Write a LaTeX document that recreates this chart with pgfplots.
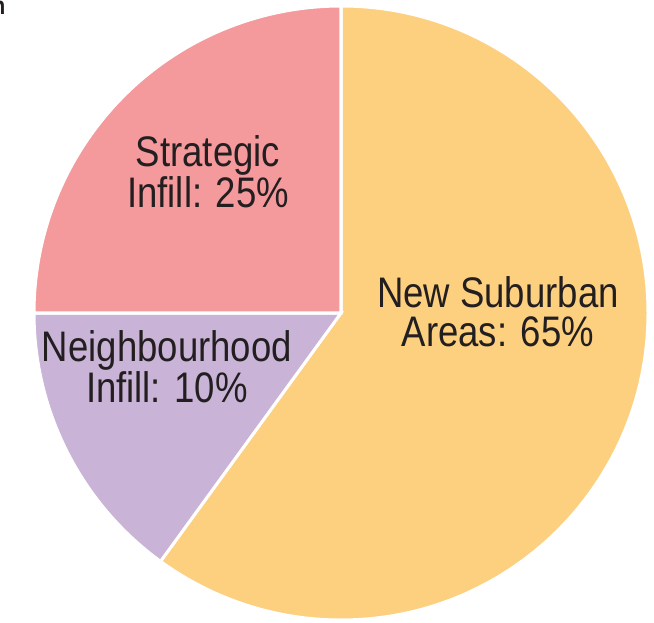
\documentclass[border=0pt]{standalone}
\usepackage{fontspec}
\setmainfont{Liberation Sans}[FakeStretch=0.855]
\usepackage{pgfplots}
\usepackage{pgfplotstable}
\pgfplotsset{compat=1.18}
\definecolor{cSub}{HTML}{FDD080}
\definecolor{cNei}{HTML}{C9B3D7}
\definecolor{cStr}{HTML}{F4999C}
\definecolor{cTxt}{HTML}{231F20}
\pgfplotstableread{
name value
Suburban 60
Neighbourhood 15
Strategic 25
}\piedata
\begin{document}
\begin{tikzpicture}
\pgfplotstablegetelem{0}{value}\of\piedata \let\vA\pgfplotsretval
\pgfplotstablegetelem{1}{value}\of\piedata \let\vB\pgfplotsretval
\pgfplotstablegetelem{2}{value}\of\piedata \let\vC\pgfplotsretval
\pgfmathsetmacro\aA{90}
\pgfmathsetmacro\aB{\aA-3.6*\vA}
\pgfmathsetmacro\aC{\aB-3.6*\vB}
\pgfmathsetmacro\aD{\aC-3.6*\vC}
\begin{axis}[
  x=5cm, y=5cm,
  xmin=-1.1107, xmax=1.0195, ymin=-1.0065, ymax=1.0195,
  hide axis, clip=false,
  scale only axis,
]
\path (axis cs:-1.1107,-1.0065) rectangle (axis cs:1.0195,1.0195);
\draw[fill=cSub, draw=white, line width=1.4pt] (axis cs:0,0) -- ([shift={(\aA:5cm)}]axis cs:0,0) arc[start angle=\aA, end angle=\aB, radius=5cm] -- cycle;
\draw[fill=cNei, draw=white, line width=1.4pt] (axis cs:0,0) -- ([shift={(\aB:5cm)}]axis cs:0,0) arc[start angle=\aB, end angle=\aC, radius=5cm] -- cycle;
\draw[fill=cStr, draw=white, line width=1.4pt] (axis cs:0,0) -- ([shift={(\aC:5cm)}]axis cs:0,0) arc[start angle=\aC, end angle=\aD, radius=5cm] -- cycle;
\begin{scope}[every node/.style={text=cTxt, font=\fontsize{19.8pt}{19pt}\selectfont, anchor=base, inner sep=0pt}]
\node at (axis cs:-0.433,0.4756) {Strategic};
\node at (axis cs:-0.433,0.342) {Infill: 25\%};
\node at (axis cs:0.511,0.0195) {New Suburban};
\node at (axis cs:0.511,-0.1107) {Areas: 65\%};
\node at (axis cs:-0.567,-0.1596) {Neighbourhood};
\node at (axis cs:-0.567,-0.293) {Infill: 10\%};
\end{scope}
\node[overlay, anchor=base east, inner sep=0pt, text=cTxt, font=\fontsize{11.5pt}{12pt}\selectfont\bfseries] at (axis cs:-1.092,0.9707) {n};
\end{axis}
\end{tikzpicture}
\end{document}
